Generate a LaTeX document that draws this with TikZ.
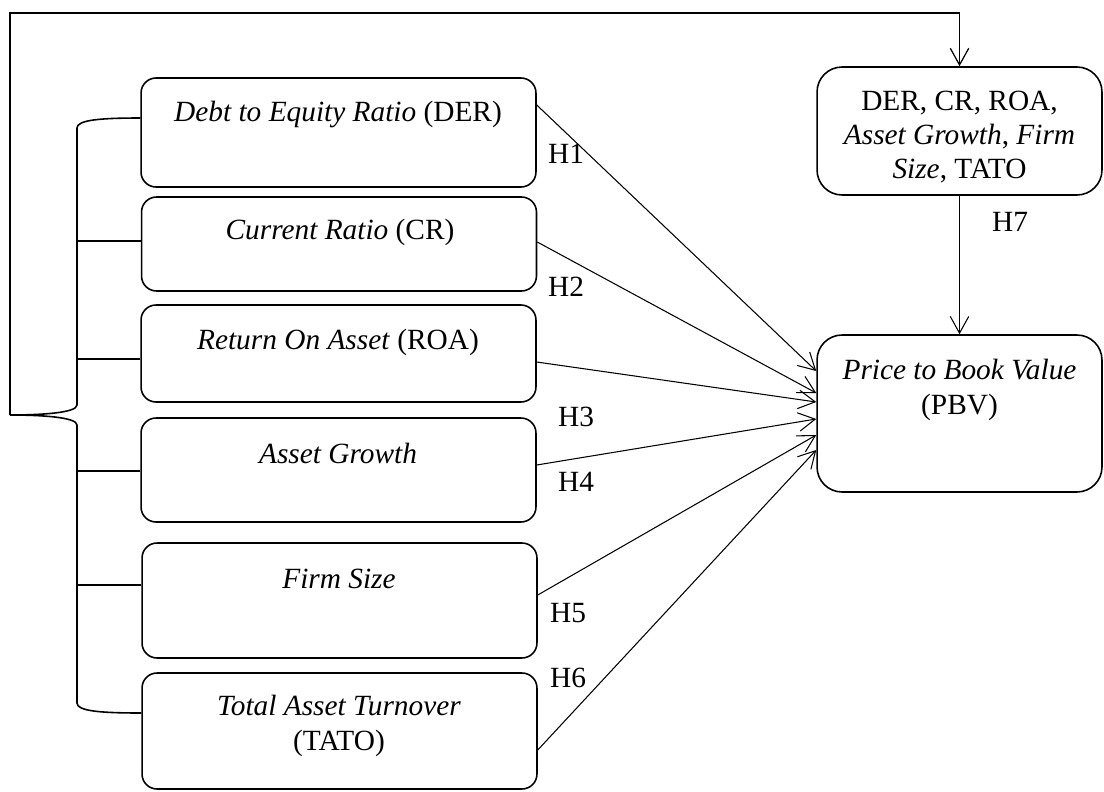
\documentclass[tikz,border=0pt]{standalone}
\usepackage{fontspec}
\setmainfont{Liberation Serif}
\usetikzlibrary{arrows.meta}

\tikzset{
  varbox/.style={draw, rounded corners=0.3cm, line width=0.9pt, minimum width=7.9cm, inner sep=0pt},
  depbox/.style={draw, rounded corners=0.5cm, line width=0.9pt, minimum width=5.7cm, inner sep=0pt},
  vartext/.style={align=center, inner sep=1pt},
  bracket/.style={line width=0.9pt},
  link/.style={->, line width=0.6pt}
}

\begin{document}
\begin{tikzpicture}[x=0.02cm, y=-0.02cm,
    font=\fontsize{16.7pt}{19.6pt}\selectfont,
    >={Straight Barb[length=9.5pt,width=10.5pt]}]

      \useasboundingbox (0,0) rectangle (1104,791);

      % Independent variables
      \node[varbox, minimum height=2.18cm] (der) at (338.5,132.5) {};
      \node[varbox, minimum height=1.88cm] (cr) at (339,244) {};
      \node[varbox, minimum height=1.94cm] (roa) at (338.5,353.5) {};
      \node[varbox, minimum height=2.08cm] (ag) at (338.5,470) {};
      \node[varbox, minimum height=2.30cm] (fs) at (339.5,600.5) {};
      \node[varbox, minimum height=2.32cm] (tato) at (339.5,731) {};

      \node[vartext] (derT) at (338,114) {\textit{Debt to Equity Ratio} (DER)};
      \node[vartext] (crT) at (340,232) {\textit{Current Ratio} (CR)};
      \node[vartext] (roaT) at (338,342) {\textit{Return On Asset} (ROA)};
      \node[vartext] (agT) at (338,453) {\textit{Asset Growth}};
      \node[vartext] (fsT) at (339,579) {\textit{Firm Size}};
      \node[vartext] (tatoT) at (339,726) {\textit{Total Asset Turnover}\\(TATO)};

      % Simultaneous test and dependent variable
      \node[depbox, minimum height=2.56cm] (mod) at (959.5,131) {};
      \node[depbox, minimum height=3.14cm] (pbv) at (959.5,413.5) {};

      \node[vartext] (modT) at (959.5,137) {DER, CR, ROA,\\\textit{Asset Growth}, \textit{Firm}\\\textit{Size}, TATO};
      \node[vartext] (pbvT) at (959.5,390) {\textit{Price to Book Value}\\(PBV)};

      % Bracket
      \coordinate (tip) at (10,415);
      \coordinate (top) at (10,13);
      \coordinate (spine) at (77,0);

      \draw[bracket] (der.west |- 0,118) .. controls (100,118) and (77,120) .. (77,128)
        -- (77,405) .. controls (77,413) and (40,415) .. (tip)
        .. controls (40,415) and (77,417) .. (77,425)
        -- (77,703) .. controls (77,711) and (100,713) .. (tato.west |- 0,713);
      \draw[bracket] (cr.west |- 0,241) -- (spine |- 0,241);
      \draw[bracket] (roa.west |- 0,359) -- (spine |- 0,359);
      \draw[bracket] (ag.west |- 0,471) -- (spine |- 0,471);
      \draw[bracket] (fs.west |- 0,585) -- (spine |- 0,585);

      \draw[link, line width=0.7pt] (tip) -- (top) -| (mod.north);

      % Hypotheses
      \draw[link] (der.east |- 0,105) -- (pbv.west |- 0,371);
      \draw[link] (cr.east |- 0,242) -- (pbv.west |- 0,393);
      \draw[link] (roa.east |- 0,362) -- (pbv.west |- 0,402);
      \draw[link] (ag.east |- 0,465) -- (pbv.west |- 0,419);
      \draw[link] (fs.east |- 0,595) -- (pbv.west |- 0,435);
      \draw[link] (tato.east |- 0,750) -- (pbv.west |- 0,450);
      \draw[link] (mod) -- (pbv);

      \node (h1) at (566,154) {H1};
      \node (h2) at (566,287) {H2};
      \node (h3) at (576,417) {H3};
      \node (h4) at (576,482) {H4};
      \node (h5) at (568,613) {H5};
      \node (h6) at (568,678) {H6};
      \node (h7) at (1010,222) {H7};

\end{tikzpicture}
\end{document}
